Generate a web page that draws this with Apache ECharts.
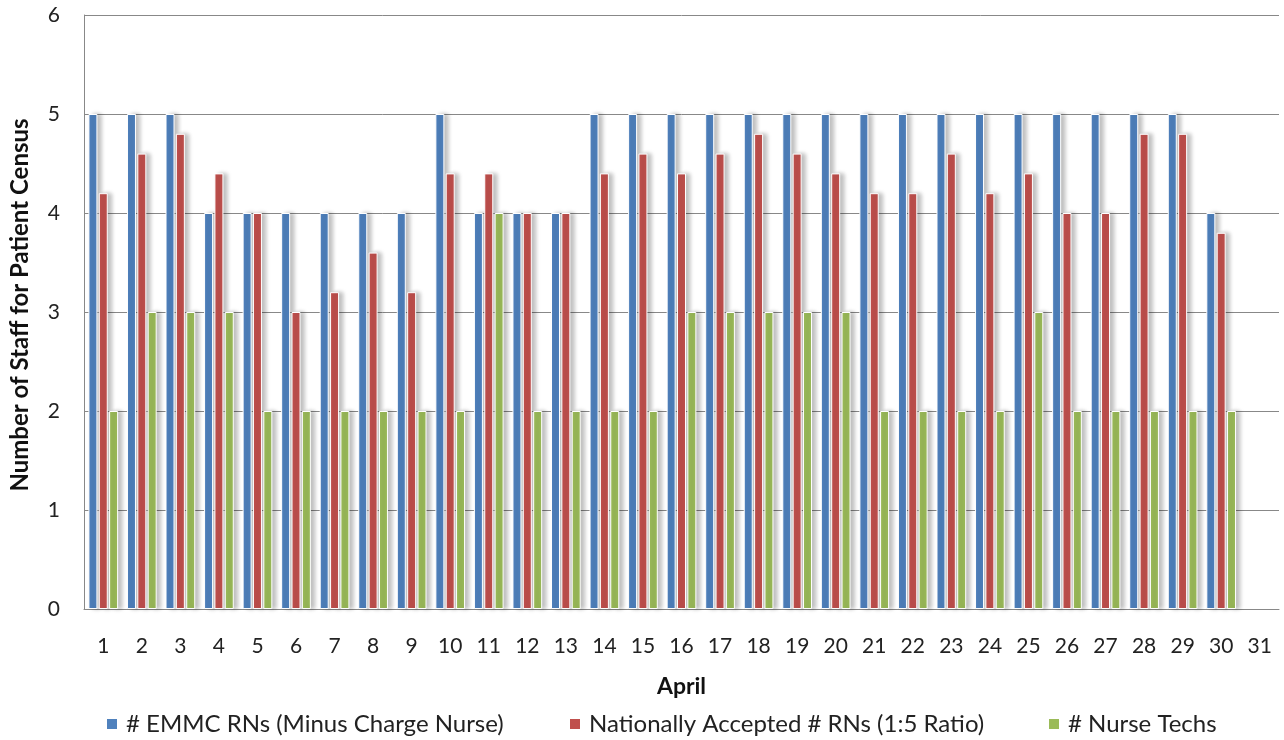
<!DOCTYPE html>
<html>
<head>
<meta charset="utf-8">
<script src="https://cdn.jsdelivr.net/npm/echarts@6/dist/echarts.min.js"></script>
<style>html,body{margin:0;padding:0;background:#fff}#c{width:1284px;height:740px}</style>
</head>
<body>
<div id="c"></div>
<script>
const days = ['1','2','3','4','5','6','7','8','9','10','11','12','13','14','15','16','17','18','19','20','21','22','23','24','25','26','27','28','29','30','31'];
const emmcRNs = [5,5,5,4,4,4,4,4,4,5,4,4,4,5,5,5,5,5,5,5,5,5,5,5,5,5,5,5,5,4,null];
const nationalRNs = [4.2,4.6,4.8,4.4,4,3,3.2,3.6,3.2,4.4,4.4,4,4,4.4,4.6,4.4,4.6,4.8,4.6,4.4,4.2,4.2,4.6,4.2,4.4,4,4,4.8,4.8,3.8,null];
const nurseTechs = [2,3,3,3,2,2,2,2,2,2,4,2,2,2,2,3,3,3,3,3,2,2,2,2,3,2,2,2,2,2,null];
const seriesNames = ['# EMMC RNs (Minus Charge Nurse)','Nationally Accepted # RNs (1:5 Ratio)','# Nurse Techs'];
const colors = ['#4F81BD','#C0504D','#9BBB59'];
const yTicks = {min:0,max:6,interval:1};

const font = 'Lato, "Open Sans", sans-serif';
const chart = echarts.init(document.getElementById('c'), null, {renderer:'canvas'});
const mk = (name, data, color) => ({
  name, type:'bar', data, barWidth:9, barGap:'15%',
  itemStyle:{color, borderColor:'#fff', borderWidth:1,
    shadowColor:'rgba(0,0,0,0.25)', shadowBlur:4, shadowOffsetX:4, shadowOffsetY:0}
});
const legendLefts = [100, 563, 1042];
const legends = seriesNames.map((n, i) => ({
  data:[n], top:707, left:legendLefts[i], itemWidth:12, itemHeight:12, icon:'rect',
  selectedMode:false,
  textStyle:{fontFamily:font,fontSize:24,color:'#222',padding:[0,0,0,3]}
}));
chart.setOption({
  animation:false,
  color:colors,
  grid:{left:81,right:5,top:15,bottom:131,containLabel:false},
  legend:legends,
  xAxis:{type:'category',data:days,
    name:'April',nameLocation:'middle',nameGap:66,
    nameTextStyle:{fontFamily:font,fontSize:23,fontWeight:'bold',color:'#111'},
    axisLine:{lineStyle:{color:'#888'}},axisTick:{show:false},
    axisLabel:{fontFamily:font,fontSize:21,color:'#222',margin:27}},
  yAxis:{type:'value',min:yTicks.min,max:yTicks.max,interval:yTicks.interval,
    name:'Number of Staff for Patient Census',nameLocation:'middle',nameGap:52,
    nameTextStyle:{fontFamily:font,fontSize:24,fontWeight:'bold',color:'#111',padding:[0,0,0,14]},
    axisLine:{show:true,lineStyle:{color:'#888'}},axisTick:{show:false},
    axisLabel:{fontFamily:font,fontSize:21,color:'#222',margin:24},
    splitLine:{lineStyle:{color:'#888',width:1}}},
  series:[mk(seriesNames[0],emmcRNs,colors[0]),mk(seriesNames[1],nationalRNs,colors[1]),mk(seriesNames[2],nurseTechs,colors[2])]
});
</script>
</body>
</html>
